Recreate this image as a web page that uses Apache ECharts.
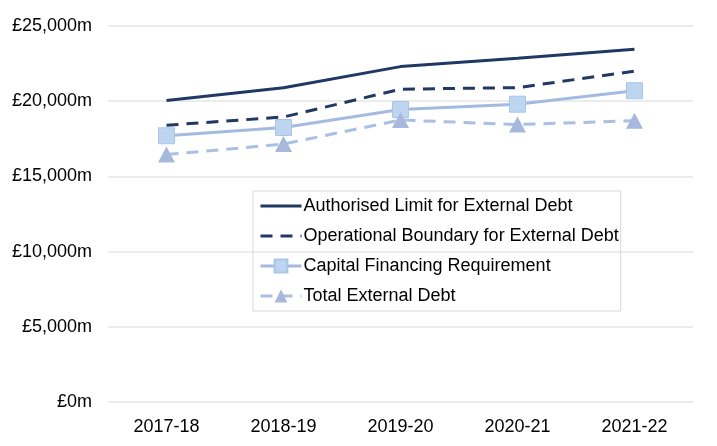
<!doctype html>
<html><head><meta charset="utf-8" />
<style>
  html,body,#app{margin:0;padding:0;width:717px;height:446px;background:#ffffff}
</style>
<script src="https://cdn.jsdelivr.net/npm/echarts@6/dist/echarts.min.js"></script>
</head><body><div id="app"></div>
<script>
  const years = ['2017-18', '2018-19', '2019-20', '2020-21', '2021-22'];
  const authorisedLimit = [20050, 20900, 22300, 22850, 23450];
  const operationalBoundary = [18400, 18950, 20800, 20900, 22000];
  const capitalFinancing = [17700, 18250, 19450, 19800, 20700];
  const totalExternalDebt = [16450, 17150, 18750, 18450, 18700];
  const yTicks = [0, 5000, 10000, 15000, 20000, 25000];

  const navy = '#1f3864';
  const font = 'Liberation Sans, Arial, sans-serif';
  // transparent marker colour so the legend icon shows only the line
  const clear = 'rgba(0,0,0,0)';
  const chart = echarts.init(document.getElementById('app'));
  chart.setOption({
    backgroundColor: '#ffffff',
    animation: false,
    textStyle: { fontFamily: font },
    grid: { left: 108, right: 24, top: 26, bottom: 44, containLabel: false },
    legend: {
      orient: 'vertical', left: 253, top: 191,
      padding: [6, 2, 6, 6], itemWidth: 41, itemHeight: 16, itemGap: 12,
      borderColor: '#d9d9d9', borderWidth: 1,
      lineStyle: { width: 3 },
      textStyle: { fontFamily: font, fontSize: 18, color: '#000000', padding: [0, 0, 0, -3] },
      data: ['Authorised Limit for External Debt', 'Operational Boundary for External Debt',
             'Capital Financing Requirement', 'Total External Debt']
    },
    xAxis: {
      type: 'category', data: years, boundaryGap: true,
      axisLine: { show: false }, axisTick: { show: false },
      axisLabel: { color: '#000000', fontSize: 18, fontFamily: font, margin: 16 }
    },
    yAxis: {
      type: 'value', min: yTicks[0], max: yTicks[yTicks.length - 1], interval: 5000,
      axisLine: { show: false }, axisTick: { show: false },
      axisLabel: { color: '#000000', fontSize: 18, fontFamily: font, margin: 16,
        formatter: v => '£' + v.toLocaleString('en-GB') + 'm' },
      splitLine: { lineStyle: { color: '#e6e6e6', width: 1.5 } }
    },
    series: [
      { name: 'Authorised Limit for External Debt', type: 'line', data: authorisedLimit,
        symbol: 'circle', showSymbol: false, lineStyle: { color: navy, width: 3 }, itemStyle: { color: clear } },
      { name: 'Operational Boundary for External Debt', type: 'line', data: operationalBoundary,
        symbol: 'circle', showSymbol: false, lineStyle: { color: navy, width: 3, type: [12, 8] }, itemStyle: { color: clear } },
      { name: 'Capital Financing Requirement', type: 'line', data: capitalFinancing,
        symbol: 'rect', symbolSize: 16,
        lineStyle: { color: '#a3bbe0', width: 3 },
        itemStyle: { color: '#bed5ef', borderColor: '#a9c5ea', borderWidth: 1 } },
      { name: 'Total External Debt', type: 'line', data: totalExternalDebt,
        symbol: 'triangle', symbolSize: [17, 16],
        lineStyle: { color: '#a9bfe3', width: 3, type: [12, 8] },
        itemStyle: { color: '#a6b9dc', borderWidth: 0 } }
    ]
  });
</script></body></html>
